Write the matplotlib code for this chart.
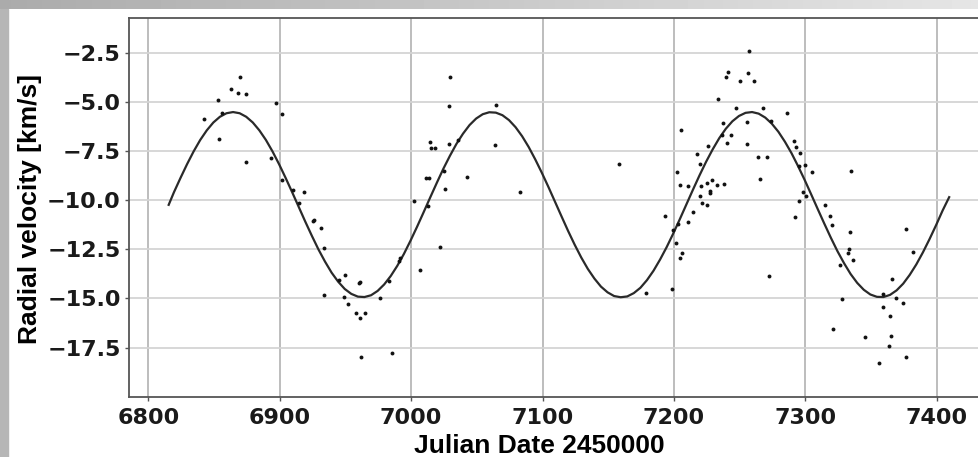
import numpy as np
import matplotlib.pyplot as plt

# observed radial velocities (JD - 2450000, km/s)
jd = [6869.8, 6863.2, 6868.3, 6874.0, 6853.0, 6897.5, 6901.5, 6842.0, 6856.4, 6854.0,
      6874.0, 6893.7, 6901.5, 6910.0, 6918.4, 6914.4, 6926.4, 6925.0, 6931.5, 6933.5,
      6933.5, 6949.5, 6945.0, 6961.4, 6960.5, 6948.7, 6951.8, 6957.9, 6964.7, 6960.9,
      6976.6, 6983.0, 6962.0, 6985.8, 6991.4, 6990.9, 7006.6, 7002.5, 7021.8, 7012.9,
      7011.0, 7013.5, 7025.6, 7024.9, 7042.9, 7014.7, 7015.5, 7018.0, 7028.7, 7036.0,
      7028.7, 7029.7, 7064.7, 7063.7, 7082.5, 7158.4,
      7257.4, 7241.1, 7239.6, 7256.3, 7250.0, 7261.2, 7233.2, 7247.2, 7267.5, 7237.6,
      7255.8, 7236.8, 7243.7, 7240.1, 7255.3, 7225.6, 7263.7, 7271.0, 7265.2, 7205.6,
      7217.5, 7219.5, 7202.5, 7204.6, 7210.4, 7220.3, 7224.9, 7229.2, 7232.5, 7238.3,
      7219.8, 7227.4, 7227.4, 7221.3, 7225.4, 7214.5, 7193.4, 7210.4, 7203.3, 7199.5,
      7201.3, 7206.3, 7204.6, 7198.5, 7178.7, 7272.3,
      7286.0, 7273.7, 7291.1, 7292.9, 7295.9, 7294.9, 7300.0, 7305.1, 7334.9, 7298.0,
      7300.5, 7294.9, 7291.8, 7315.1, 7319.1, 7320.2, 7333.9, 7333.2, 7332.4, 7336.0,
      7326.3, 7327.8, 7321.4, 7345.2, 7359.2, 7366.3, 7369.1, 7374.2, 7359.2, 7364.3,
      7365.1, 7364.0, 7356.1, 7376.3, 7376.3, 7381.9]
rv = [-3.73, -4.34, -4.53, -4.58, -4.92, -5.07, -5.64, -5.86, -5.56, -6.88,
      -8.06, -7.85, -9.00, -9.48, -9.59, -10.15, -11.00, -11.07, -11.44, -12.45,
      -14.81, -13.80, -14.04, -14.17, -14.20, -14.93, -15.29, -15.76, -15.73, -15.98,
      -15.00, -14.10, -17.99, -17.80, -12.92, -13.10, -13.58, -10.03, -12.36, -10.29,
      -8.90, -8.90, -9.44, -8.51, -8.80, -7.04, -7.36, -7.36, -7.15, -6.93,
      -5.22, -3.73, -5.17, -7.20, -9.59, -8.17,
      -2.40, -3.50, -3.73, -3.55, -3.94, -3.95, -4.88, -5.30, -5.30, -6.10,
      -6.05, -6.67, -6.71, -7.09, -7.16, -7.26, -7.82, -7.82, -8.92, -6.44,
      -7.65, -8.14, -8.56, -9.21, -9.29, -9.26, -9.12, -8.97, -9.22, -9.16,
      -9.78, -9.54, -9.66, -10.15, -10.25, -10.62, -10.83, -11.11, -11.22, -11.52,
      -12.16, -12.69, -12.96, -14.53, -14.71, -13.85,
      -5.56, -5.98, -7.00, -7.31, -7.58, -8.24, -8.20, -8.56, -8.53, -9.59,
      -9.80, -10.07, -10.88, -10.25, -10.83, -11.29, -11.64, -12.47, -12.68, -13.05,
      -13.32, -15.05, -16.58, -16.95, -14.80, -14.03, -15.00, -15.24, -15.46, -15.90,
      -16.90, -17.42, -18.29, -17.97, -11.47, -12.66]

# orbit fit, every 5 days
fit_jd = [6815.5, 6819.5, 6824.5, 6829.5, 6834.5, 6839.5, 6844.5, 6849.5, 6854.5, 6859.5,
          6864.5, 6869.5, 6874.5, 6879.5, 6884.5, 6889.5, 6894.5, 6899.5, 6904.5, 6909.5,
          6914.5, 6919.5, 6924.5, 6929.5, 6934.5, 6939.5, 6944.5, 6949.5, 6954.5, 6959.5,
          6964.5, 6969.5, 6974.5, 6979.5, 6984.5, 6989.5, 6994.5, 6999.5, 7004.5, 7009.5,
          7014.5, 7019.5, 7024.5, 7029.5, 7034.5, 7039.5, 7044.5, 7049.5, 7054.5, 7059.5,
          7064.5, 7069.5, 7074.5, 7079.5, 7084.5, 7089.5, 7094.5, 7099.5, 7104.5, 7109.5,
          7114.5, 7119.5, 7124.5, 7129.5, 7134.5, 7139.5, 7144.5, 7149.5, 7154.5, 7159.5,
          7164.5, 7169.5, 7174.5, 7179.5, 7184.5, 7189.5, 7194.5, 7199.5, 7204.5, 7209.5,
          7214.5, 7219.5, 7224.5, 7229.5, 7234.5, 7239.5, 7244.5, 7249.5, 7254.5, 7259.5,
          7264.5, 7269.5, 7274.5, 7279.5, 7284.5, 7289.5, 7294.5, 7299.5, 7304.5, 7309.5,
          7314.5, 7319.5, 7324.5, 7329.5, 7334.5, 7339.5, 7344.5, 7349.5, 7354.5, 7359.5,
          7364.5, 7369.5, 7374.5, 7379.5, 7384.5, 7389.5, 7394.5, 7399.5, 7404.5, 7409.5]
fit_rv = [-10.24, -9.60, -8.87, -8.17, -7.52, -6.94, -6.45, -6.05, -5.76, -5.58,
          -5.52, -5.58, -5.76, -6.05, -6.45, -6.94, -7.52, -8.17, -8.87, -9.60,
          -10.35, -11.10, -11.82, -12.51, -13.13, -13.69, -14.15, -14.52, -14.77, -14.91,
          -14.93, -14.84, -14.62, -14.29, -13.86, -13.34, -12.74, -12.07, -11.36, -10.62,
          -9.87, -9.13, -8.41, -7.75, -7.14, -6.62, -6.18, -5.85, -5.63, -5.53,
          -5.55, -5.68, -5.93, -6.29, -6.75, -7.30, -7.93, -8.61, -9.33, -10.08,
          -10.83, -11.57, -12.27, -12.92, -13.50, -13.99, -14.40, -14.69, -14.88, -14.94,
          -14.90, -14.73, -14.46, -14.07, -13.59, -13.02, -12.39, -11.70, -10.97, -10.22,
          -9.47, -8.74, -8.05, -7.42, -6.85, -6.37, -5.99, -5.72, -5.56, -5.52,
          -5.60, -5.80, -6.11, -6.52, -7.03, -7.61, -8.27, -8.97, -9.71, -10.46,
          -11.20, -11.92, -12.60, -13.21, -13.76, -14.21, -14.56, -14.80, -14.92, -14.93,
          -14.82, -14.59, -14.25, -13.80, -13.27, -12.66, -11.99, -11.28, -10.53, -9.85]

xticks = [6800, 6900, 7000, 7100, 7200, 7300, 7400]
yticks = [-17.5, -15.0, -12.5, -10.0, -7.5, -5.0, -2.5]

W, H = 979, 457
fig = plt.figure(figsize=(W / 100, H / 100), dpi=100)
fig.patch.set_facecolor('white')

# grey frame of the screenshot
band = fig.add_axes([0, 1 - 9 / H, 1, 9 / H])
band.imshow(np.linspace(0.67, 0.9, 256)[None, :], aspect='auto', cmap='gray', vmin=0, vmax=1)
band.axis('off')
fig.add_artist(plt.Rectangle((0, 0), 8 / W, 1 - 9 / H, transform=fig.transFigure,
                             color='#b6b6b6', zorder=0))

ax = fig.add_axes([129 / W, 60.3 / H, 850 / W, 379 / H])
ax.plot(jd, rv, 'o', ms=2.8, color='#111111', mew=0, zorder=3)
ax.plot(fit_jd, fit_rv, color='#2a2a2a', lw=1.6, zorder=2)

ax.set_xlim(6785.3, 7432.2)
ax.set_ylim(-20.0, -0.72)
ax.set_xticks(xticks)
ax.set_yticks(yticks)

ax.set_axisbelow(True)
ax.xaxis.grid(True, color='#b8b8b8', lw=1.3)
ax.yaxis.grid(True, color='#d4d4d4', lw=1.3)
ax.spines['right'].set_visible(False)
for s in ['top', 'left', 'bottom']:
    ax.spines[s].set_color('#555555')
    ax.spines[s].set_linewidth(1.3)

ax.tick_params(axis='both', length=3, width=1, color='#555555', labelcolor='#1a1a1a',
               labelsize=16)
for lab in ax.get_xticklabels() + ax.get_yticklabels():
    lab.set_fontweight('bold')
ax.tick_params(axis='x', pad=5.3)
ax.tick_params(axis='y', pad=3)

ax.set_xlabel('Julian Date 2450000', fontfamily='Liberation Sans', fontweight='bold',
              fontsize=19, va='center')
ax.xaxis.set_label_coords(0.483, -0.130)
ax.set_ylabel('Radial velocity [km/s]', fontfamily='Liberation Sans', fontweight='bold',
              fontsize=19, va='center')
ax.yaxis.set_label_coords(-0.1165, 0.495)

fig.savefig('out.png', dpi=100)
